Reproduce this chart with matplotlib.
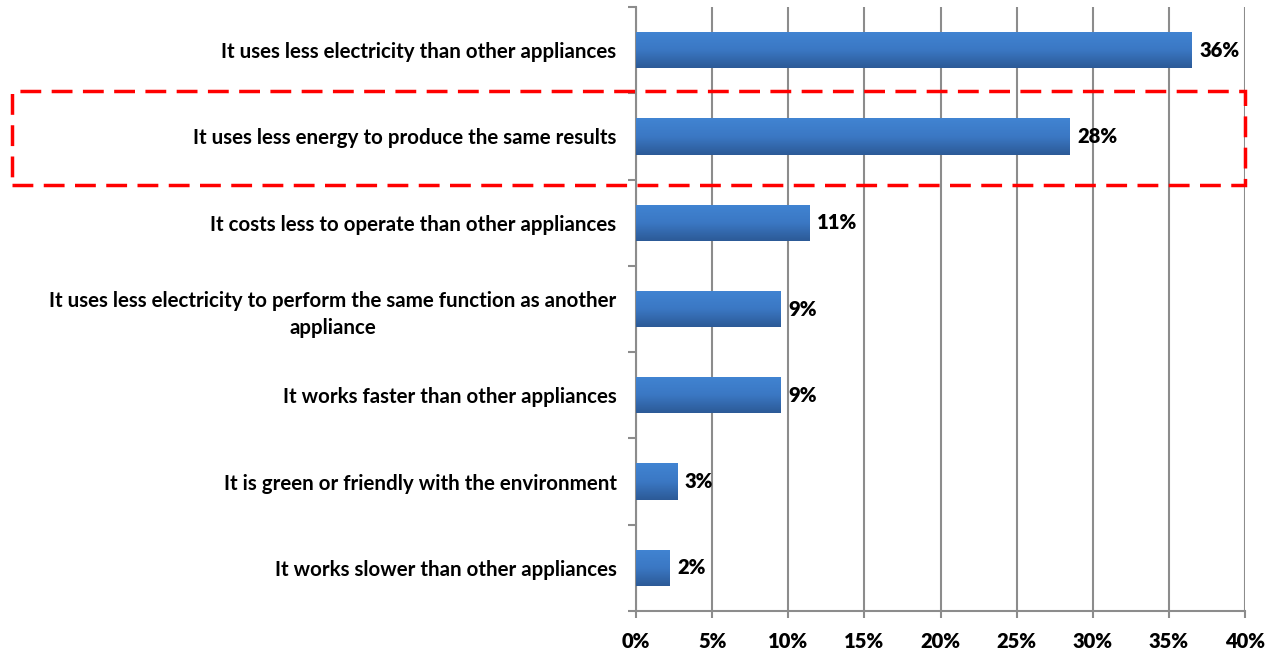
import matplotlib.pyplot as plt
import numpy as np
from matplotlib.patches import Rectangle
from matplotlib.colors import LinearSegmentedColormap

plt.rcParams['font.family'] = ['Lato', 'DejaVu Sans']
plt.rcParams['font.weight'] = 'bold'

reasons = ['It uses less electricity than other appliances',
           'It uses less energy to produce the same results',
           'It costs less to operate than other appliances',
           'It uses less electricity to perform the same function as another\nappliance',
           'It works faster than other appliances',
           'It is green or friendly with the environment',
           'It works slower than other appliances']
shares = [36.5, 28.5, 11.4, 9.5, 9.5, 2.7, 2.2]
share_labels = ['36%', '28%', '11%', '9%', '9%', '3%', '2%']
xticks = [0, 5, 10, 15, 20, 25, 30, 35, 40]

fig = plt.figure(figsize=(12.74, 6.55), dpi=100)
ax = fig.add_axes([636/1274, 1-611/655, (1245-636)/1274, (611-7)/655])

y = np.arange(len(reasons))
bars = ax.barh(y, shares, height=0.42, color='#3a72b8', edgecolor='none', zorder=3)

# vertical gradient on each bar, lighter at top
cmap = LinearSegmentedColormap.from_list('bar', ['#2c5a97', '#3b78c4', '#4184d2'])
grad = np.linspace(0, 1, 100).reshape(-1, 1)
for b in bars:
    x0, y0 = b.get_x(), b.get_y()
    im = ax.imshow(grad, extent=[x0, x0 + b.get_width(), y0 + b.get_height(), y0],
                   cmap=cmap, aspect='auto', origin='lower', zorder=4)
    im.set_clip_path(b)

for yi, v, lab in zip(y, shares, share_labels):
    ax.text(v + 0.5, yi, lab, va='center', ha='left', fontsize=14.5, fontweight='heavy', zorder=5)

ax.set_xlim(0, 40)
ax.set_ylim(len(reasons) - 0.5, -0.5)
ax.set_xticks(xticks)
ax.set_xticklabels([f'{t}%' for t in xticks], fontsize=14.5, fontweight='heavy')
ax.set_yticks(y)
ax.set_yticklabels(reasons, fontsize=14.8, fontweight='bold', multialignment='center',
                   linespacing=1.45)
ax.set_yticks(np.arange(-0.5, len(reasons), 1), minor=True)
ax.tick_params(axis='y', which='major', length=0, pad=14)
ax.tick_params(axis='y', which='minor', length=6, color='#8c8c8c', width=1.5)
ax.tick_params(axis='x', length=5, color='#8c8c8c', width=1.5, pad=10)
ax.grid(axis='x', color='#8c8c8c', linewidth=1.5, zorder=0)
for s in ['top', 'right']:
    ax.spines[s].set_visible(False)
for s in ['left', 'bottom']:
    ax.spines[s].set_color('#8c8c8c')
    ax.spines[s].set_linewidth(1.5)
ax.set_facecolor('none')

# red dashed highlight box
fig.patches.append(Rectangle((12/1274, 1-185/655), (1245-12)/1274, 94/655,
                             transform=fig.transFigure, fill=False, edgecolor='#ff0000',
                             linewidth=2.5, linestyle=(0, (6, 3)), zorder=10))

fig.savefig('out.png', dpi=100)
